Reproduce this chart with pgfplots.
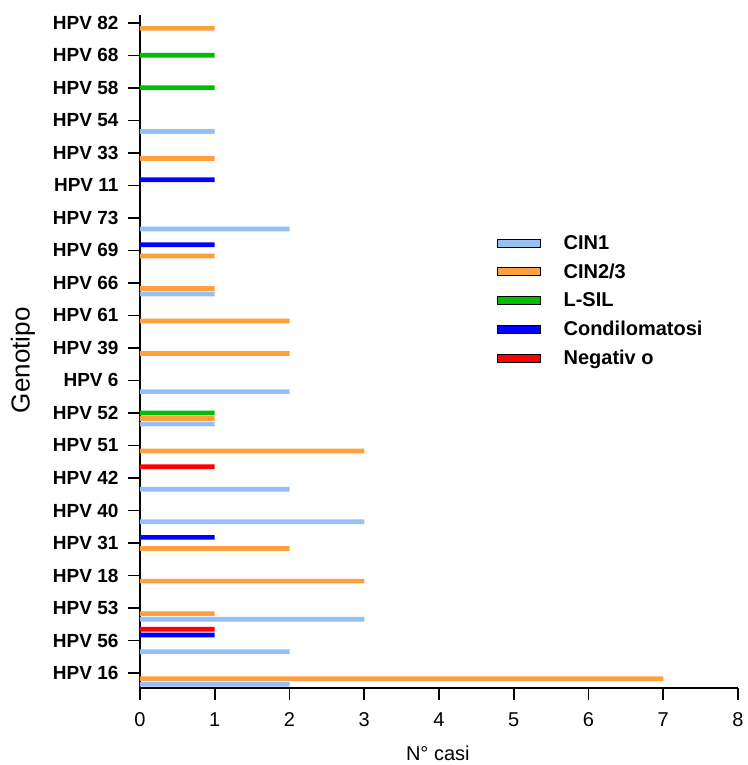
\documentclass[border=0pt]{standalone}
\usepackage{pgfplots}
\pgfplotsset{compat=1.18}
\usepackage{fontspec}
\setmainfont{Liberation Sans}
\definecolor{cinone}{RGB}{150,192,245}
\definecolor{cintwo}{RGB}{255,160,64}
\definecolor{lsil}{RGB}{0,190,0}
\definecolor{condil}{RGB}{0,0,255}
\definecolor{negat}{RGB}{255,0,0}
\begin{document}
\begin{tikzpicture}
\begin{axis}[
  scale only axis,
  width=598pt, height=673pt,
  xbar,
  bar width=4.7pt,
  xmin=0, xmax=8,
  ymin=-0.46, ymax=20.24,
  axis x line*=bottom, axis y line*=left,
  axis line style={-, line width=1.6pt, black},
  tick align=outside,
  major tick length=12pt,
  every tick/.style={black, line width=1.6pt},
  xtick={0,1,2,3,4,5,6,7,8},
  ytick={0,...,20},
  yticklabels={HPV 16,HPV 56,HPV 53,HPV 18,HPV 31,HPV 40,HPV 42,HPV 51,HPV 52,HPV 6,HPV 39,HPV 61,HPV 66,HPV 69,HPV 73,HPV 11,HPV 33,HPV 54,HPV 58,HPV 68,HPV 82},
  /pgf/number format/assume math mode=true,
  xticklabel style={font=\fontsize{20}{20}\selectfont, yshift=-9pt},
  yticklabel style={font=\fontsize{19}{19}\selectfont\bfseries, xshift=-6pt},
  xlabel={N° casi},
  xlabel style={font=\fontsize{20}{20}\selectfont, at={(axis description cs:0.498,-0.097)}, anchor=center},
  ylabel={Genotipo},
  ylabel style={font=\fontsize{26}{26}\selectfont, at={(axis description cs:-0.196,0.487)}, anchor=center},
  legend image code/.code={\draw[#1,draw=black,line width=0.8pt] (0pt,-4pt) rectangle (43pt,4pt); \path (64pt,0pt);},
  legend style={draw=none, fill=none, at={(axis description cs:0.597,0.676)}, anchor=north west,
    font=\fontsize{20}{20}\selectfont\bfseries, row sep=9pt, inner sep=0pt,
    nodes={inner sep=2pt}},
  legend cell align=left,
  clip=false,
]
\addplot[draw=none, fill=cinone, bar shift=-11.2pt] coordinates {(2,0) (2,1) (3,2) (3,5) (2,6) (1,8) (2,9) (1,12) (2,14) (1,17)};
\addlegendentry{CIN1}
\addplot[draw=none, fill=cintwo, bar shift=-5.6pt] coordinates {(7,0) (1,2) (3,3) (2,4) (3,7) (1,8) (2,10) (2,11) (1,12) (1,13) (1,16) (1,20)};
\addlegendentry{CIN2/3}
\addplot[draw=none, fill=lsil, bar shift=0pt] coordinates {(1,8) (1,18) (1,19)};
\addlegendentry{L-SIL}
\addplot[draw=none, fill=condil, bar shift=5.6pt] coordinates {(1,1) (1,4) (1,13) (1,15)};
\addlegendentry{Condilomatosi}
\addplot[draw=none, fill=negat, bar shift=11.2pt] coordinates {(1,1) (1,6)};
\addlegendentry{Negativ o}
\coordinate (bl) at (rel axis cs:0,0);
\coordinate (tr) at (rel axis cs:1,1);
\end{axis}
\path (bl) ++(-140pt,-77pt) -- (tr) ++(10pt,15pt);
\end{tikzpicture}
\end{document}
